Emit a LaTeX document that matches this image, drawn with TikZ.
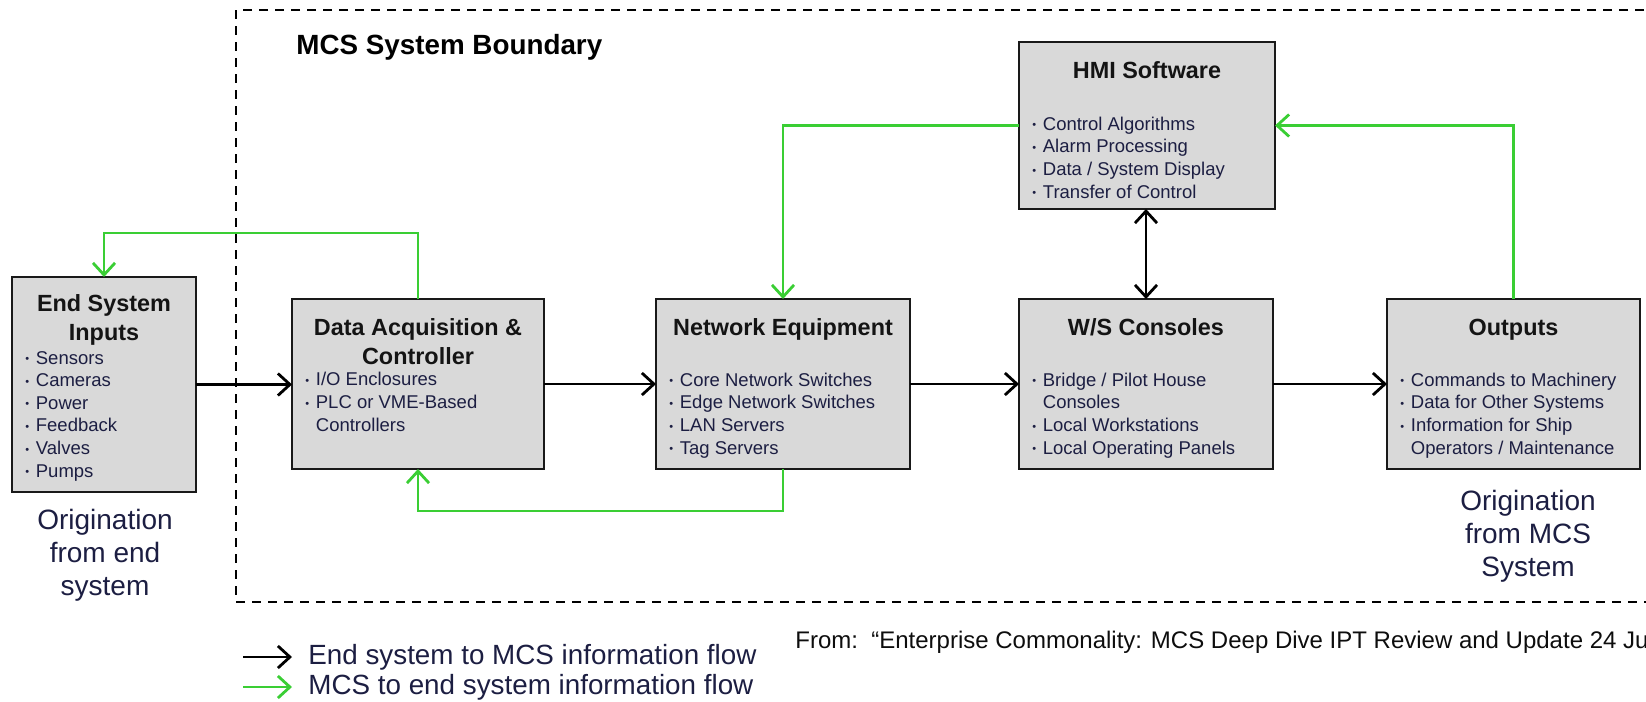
\documentclass[tikz,border=0pt]{standalone}
\usepackage{fontspec}
\setmainfont{Liberation Sans}
\usetikzlibrary{arrows.meta}

\definecolor{flowgreen}{RGB}{58,206,52}
\definecolor{boxgray}{RGB}{217,217,217}
\definecolor{inkblue}{RGB}{28,30,66}

\newcommand\titlesize{\fontsize{11.7pt}{14.5pt}\selectfont\bfseries}
\newcommand\itemsize{\fontsize{9.25pt}{11.3pt}\selectfont}
\newcommand\notesize{\fontsize{14pt}{16.5pt}\selectfont}
\newcommand\itm{\makebox[5.25pt][l]{\raisebox{0.7pt}{\fontsize{5.5pt}{5.5pt}\selectfont\textbullet}}}
\newcommand\cont{\makebox[5.25pt]{}}

\begin{document}
% coordinates are pixels, y grows downwards; multi-line texts sit on their last baseline
\begin{tikzpicture}[x=0.5pt,y=-0.5pt,
  block/.style={draw=black!90, line width=1.2pt, fill=boxgray, inner sep=0pt, outer sep=0pt},
  ttl/.style={font=\titlesize, align=center, anchor=base, inner sep=0pt, text=black!92},
  items/.style={font=\itemsize, align=left, anchor=base west, inner sep=0pt, text=inkblue},
  note/.style={font=\notesize, align=center, anchor=base, inner sep=0pt, text=inkblue},
  keytext/.style={font=\fontsize{13.9pt}{16pt}\selectfont, anchor=base west, inner sep=0pt, text=inkblue},
  blackflow/.style={draw=black, line width=1.4pt, -{Straight Barb[length=6pt,width=11pt]}},
  greenflow/.style={draw=flowgreen, line width=1.4pt, -{Straight Barb[length=6pt,width=11pt]}},
  bothflow/.style={draw=black, line width=1.4pt, {Straight Barb[length=6pt,width=11pt]}-{Straight Barb[length=6pt,width=11pt]}}
]
\useasboundingbox (0,0) rectangle (1646,702);
\clip (0,0) rectangle (1646,702);

% system boundary (open on the right)
\draw[line width=1pt, dash pattern=on 4.5pt off 3.5pt]
  (1660,10) -- (236,10) -- (236,602) -- (1660,602);
\node[font=\fontsize{13.9pt}{16pt}\selectfont\bfseries, anchor=base west, inner sep=0pt]
  (bnd) at (296,54) {MCS System Boundary};

% blocks
\node[block, minimum width=92pt,  minimum height=107.5pt] (es)  at (104,384.5) {};
\node[block, minimum width=126pt, minimum height=85pt]    (da)  at (418,384) {};
\node[block, minimum width=127pt, minimum height=85pt]    (net) at (783,384) {};
\node[block, minimum width=127pt, minimum height=85pt]    (ws)  at (1146,384) {};
\node[block, minimum width=126.5pt, minimum height=85pt]  (out) at (1513.5,384) {};
\node[block, minimum width=128pt, minimum height=83.5pt]  (hmi) at (1147,125.5) {};

% block texts
\node[ttl] (esT) at (104,340) {End System\\Inputs};
\node[items] (esL) at (25,477) {\itm Sensors\\\itm Cameras\\\itm Power\\\itm Feedback\\\itm Valves\\\itm Pumps};

\node[ttl] (daT) at (418,364) {Data Acquisition \&\\Controller};
\node[items] (daL) at (305,431) {\itm I/O Enclosures\\\itm PLC or VME-Based\\\cont Controllers};

\node[ttl] (netT) at (783,335) {Network Equipment};
\node[items] (netL) at (669,454) {\itm Core Network Switches\\\itm Edge Network Switches\\\itm LAN Servers\\\itm Tag Servers};

\node[ttl] (wsT) at (1146,335) {W/S Consoles};
\node[items] (wsL) at (1032,454) {\itm Bridge / Pilot House\\\cont Consoles\\\itm Local Workstations\\\itm Local Operating Panels};

\node[ttl] (outT) at (1513.5,335) {Outputs};
\node[items] (outL) at (1400,454) {\itm Commands to Machinery\\\itm Data for Other Systems\\\itm Information for Ship\\\cont Operators / Maintenance};

\node[ttl] (hmiT) at (1147,78) {HMI Software};
\node[items] (hmiL) at (1032,198) {\itm Control Algorithms\\\itm Alarm Processing\\\itm Data / System Display\\\itm Transfer of Control};

% origin notes
\node[note] (origL) at (105,595) {Origination\\from end\\system};
\node[note] (origR) at (1528,576) {Origination\\from MCS\\System};

% end system to MCS flow
\draw[blackflow] (es.east) -- (es.east -| da.west);
\draw[blackflow] (da.east) -- (da.east -| net.west);
\draw[blackflow] (net.east) -- (net.east -| ws.west);
\draw[blackflow] (ws.east) -- (ws.east -| out.west);
\draw[bothflow] (ws.north) -- (ws.north |- hmi.south);

% MCS to end system flow
\draw[greenflow] (da.north) -- ++(0,-66) -| (es.north);
\draw[greenflow] (net.south) -- ++(0,42) -| (da.south);
\draw[greenflow] (hmi.west) -| (net.north);
\draw[greenflow] (out.north) |- (hmi.east);

% legend
\coordinate (k1a) at (243,657); \coordinate (k1b) at (292,657);
\coordinate (k2a) at (243,687); \coordinate (k2b) at (292,687);
\draw[blackflow] (k1a) -- (k1b);
\draw[greenflow] (k2a) -- (k2b);
\node[keytext] (k1) at (308,664) {End system to MCS information flow};
\node[keytext] (k2) at (308,694) {MCS to end system information flow};

% source line
\node[font=\fontsize{12pt}{14pt}\selectfont, anchor=base west, inner sep=0pt, text=black!95]
  (src) at (795,648) {From:\ \ “Enterprise Commonality: MCS Deep Dive IPT Review and Update 24 Ju};
\end{tikzpicture}
\end{document}
